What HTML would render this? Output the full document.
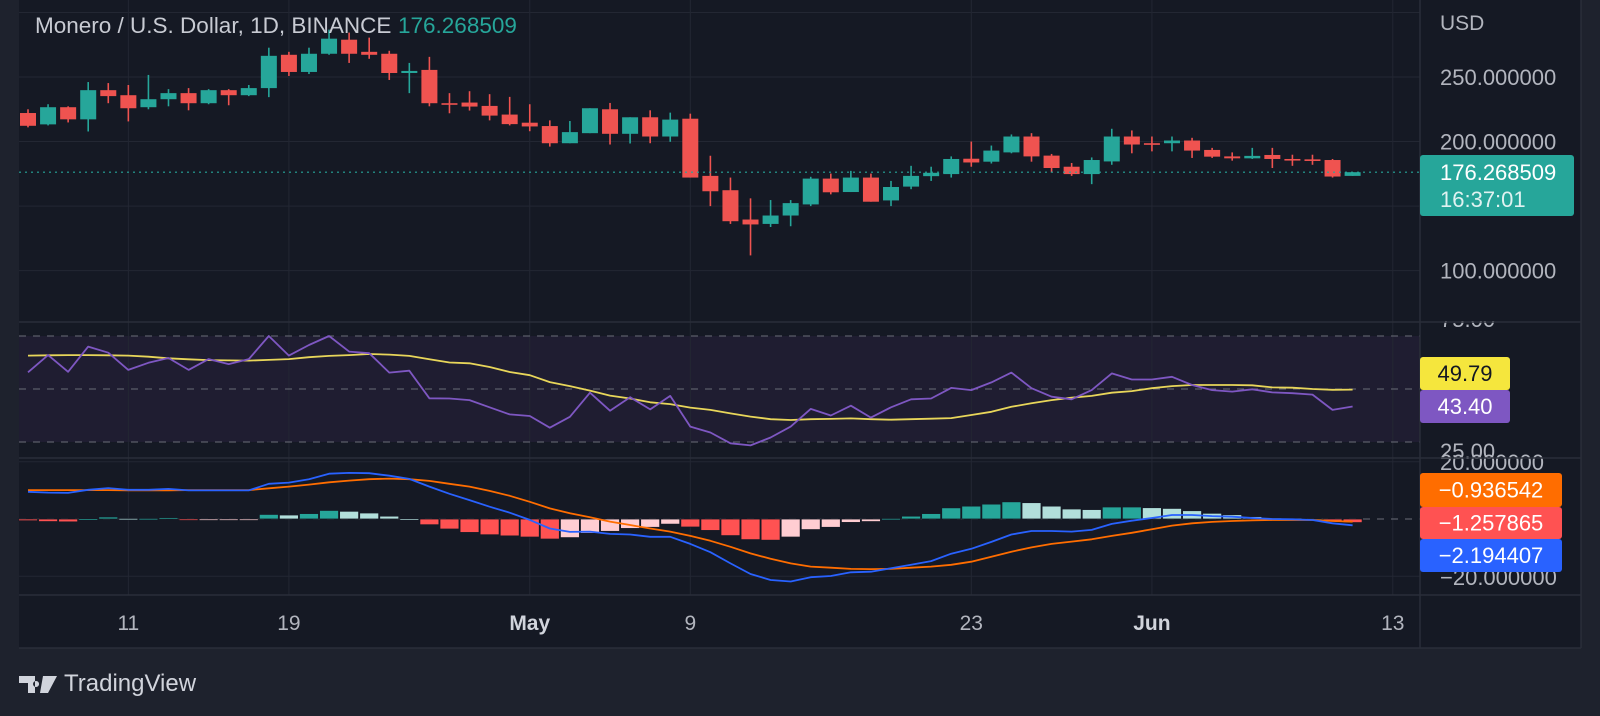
<!DOCTYPE html>
<html><head><meta charset="utf-8"><style>
html,body{margin:0;padding:0;background:#1e222d;}
svg{display:block;font-family:"Liberation Sans",sans-serif;}
</style></head><body>
<svg id="chart" width="1600" height="716" viewBox="0 0 1600 716" xmlns="http://www.w3.org/2000/svg">
<rect x="0" y="0" width="1600" height="716" fill="#1e222d"/>
<rect x="19" y="0" width="1562" height="648" fill="#151924"/>
<rect x="19" y="336" width="1401" height="106" fill="#1f1d31"/>
<g id="grid"></g>
<g id="main"></g>
<g id="rsi"></g>
<g id="macd"></g>
<g id="axes"></g>
<text x="35" y="33" font-size="22.5" fill="#c8cbd3">Monero / U.S. Dollar, 1D, BINANCE</text>
<text x="398" y="33" font-size="22.5" fill="#26a69a">176.268509</text>
<g>
<path d="M19 676 h16 v17 h-7 v-10 h-9z M36 681 a3 3 0 1 0 0.1 0z M43 676 h14 l-9 17 h-8z" fill="#d1d4dc"/>
<text x="64" y="691" font-size="24" fill="#d1d4dc">TradingView</text>
</g>
</svg>
<script>
const openP=[222.1,213.3,226.6,217.2,239.8,235.9,226.6,232.8,237.5,229.7,239.8,235.9,241.4,267.2,253.9,268,278.9,269.5,268,253.1,255.5,229.7,230.2,227.6,220.9,214.6,212,198.7,206.5,225,206,218.8,203.9,217.7,173.4,162.3,139.6,136.2,142.7,151.3,171.3,160.9,172.1,154.4,165.1,173.2,174.8,186.7,184.4,191.6,203.9,189.1,180.5,174.8,184.6,203.9,198.7,198.7,200.8,193.5,188.5,187,189.6,186.5,186.2,185.7,173.4];
const highP=[225,228.9,227.3,246.1,245.3,243.8,251.6,240.6,241.4,240.6,240.6,243.8,272.7,269.5,272.7,286.7,284.4,280.5,270.3,260.9,265.6,237.5,239,236.7,234.6,228.9,216.4,215.9,225.8,229.9,218.8,224.2,222.4,221.6,189,172.1,156,154.7,154.7,172.7,175.2,177.3,175.2,169.5,181.2,180.5,188.5,200,196.9,205.5,206.5,190.4,183.4,187.7,209.9,208.6,203.9,203.9,202.9,195.1,191.6,195.1,195.1,189.8,189.8,186.5,176.3];
const lowP=[211,212.5,214.8,207.8,229.7,215.6,225,227.3,224.2,228.9,228.1,235.2,234.4,250.8,252.3,267.2,260.9,264.1,247.7,237.5,227.3,221.9,224,216.4,212.5,208,196.1,198.7,206.5,197.7,198.5,198.7,199.8,172.1,150,136.2,111.8,133.8,134.4,150,159.1,160.9,153.4,150,163.1,169.5,172.1,180.5,183,190.9,184.4,176,173.4,167,182,190.9,192.4,192.4,187.3,187.3,185.2,186.5,179.5,181.2,182,172.1,173.4];
const closeP=[212.2,226.6,217.2,239.8,235.2,225.8,232.8,237.5,229.7,239.8,235.9,241.4,266.4,253.9,268,279.7,268,267.2,253.1,254.7,229.7,228.9,227.1,220.1,213.5,211.7,198.7,207.3,225.8,206,218.8,203.9,217,172.1,161.5,138.3,135.8,142.7,152.3,171.3,160.7,172.1,153.4,164.8,173.4,175.8,186.5,183.8,193,203.9,188.5,179.5,174.8,185.7,203.9,197.7,198.2,200.8,193,188.3,187,188.9,186.5,186.2,185.7,172.9,176.27];
const rsiVals=[56.3,62.8,56.5,66,63.7,57.2,59.9,61.7,57.2,61.3,59.4,61.3,70,62.6,66.6,70,64.1,63.5,56.2,56.9,46.5,46.4,45.8,43.1,40.4,39.8,35.4,39.5,48.6,41.8,46.9,42.3,47.4,35.8,33.6,29.5,28.7,31.7,35.8,42.5,40,43.7,39.2,43.1,46.1,46.4,50.4,49.6,52.5,56.2,50.3,47.1,46.1,49.6,55.9,53.6,53.6,54.6,51.5,49.6,49,49.9,48.7,48.4,47.9,42.1,43.4];
const rsiMA=[62.6,62.7,62.8,62.8,62.7,62.6,62.2,61.6,61.2,60.9,60.8,60.7,61,61.3,62,62.5,62.8,63.2,63,62.5,61.2,60,59.7,58.3,56.4,55.2,52.6,51.1,49.4,47.5,46.4,45,44.3,43,42.1,40.8,39.6,38.6,38.3,38.6,38.7,38.9,38.6,38.4,38.6,38.8,39,40.2,41.4,43.3,44.6,45.8,46.7,47.4,48.6,49.2,50.3,51.1,51.5,51.5,51.5,51.4,50.6,50.5,50,49.7,49.79];
const macdVals=[9.5,9.2,9.1,10.2,10.8,10.2,10.2,10.5,10,10,10,10,12.3,12.7,13.9,15.8,16.1,16,15.1,14,11.3,8.8,6.6,4.3,2.2,-0.3,-3.3,-4.5,-4.4,-5.2,-5.4,-6.2,-6.2,-8.7,-11.6,-15.5,-19.2,-21.3,-21.8,-20.3,-19.9,-18.6,-18.4,-17.2,-16,-14.7,-12.1,-10.4,-8,-5.4,-4.2,-4.2,-4.4,-3.8,-1.7,-0.6,0.35,1.4,1.4,1.0,0.8,0.35,0,-0.1,-0.35,-1.5,-2.19];
const signalVals=[10.1,10.1,10.1,10.1,10.1,10,10,10,10.1,10.1,10.1,10.1,10.7,11.3,12,12.8,13.4,13.9,14.1,13.9,13.3,12.3,11.3,9.8,8.1,6,3.7,2,0.6,-0.9,-2.1,-3.3,-4.4,-5.9,-7.6,-9.7,-12,-13.9,-15.5,-16.6,-17,-17.4,-17.5,-17.4,-17,-16.6,-16,-14.9,-13.2,-11.4,-9.9,-8.7,-7.9,-7.1,-5.9,-4.8,-3.6,-2.3,-1.5,-1.0,-0.7,-0.5,-0.35,-0.35,-0.35,-0.7,-0.94];
const timeTickIdx=[5,13,25,33,47,56,68];
const timeTickLabels=["11","19","May","9","23","Jun","13"];
const priceTicks=[300,250,200,150,100];
const priceTickLabels=["","250.000000","200.000000","","100.000000"];
const lastPrice=176.268509;

const NS="http://www.w3.org/2000/svg";
function el(tag,attrs,parent,txt){const e=document.createElementNS(NS,tag);for(const k in attrs)e.setAttribute(k,attrs[k]);if(txt!==undefined)e.textContent=txt;parent.appendChild(e);return e;}
function xS(i){return 28+20.07*i;}
function yP(p){return 77+(250-p)*1.291;}
function yR(v){return 389-(v-50)*2.65;}
function yM(v){return 519-v*2.865;}
const grid=document.getElementById('grid'),main=document.getElementById('main'),rsi=document.getElementById('rsi'),macd=document.getElementById('macd'),axes=document.getElementById('axes');

priceTicks.forEach((p,k)=>{const g=el('line',{x1:19,x2:1420,y1:yP(p),y2:yP(p),stroke:'#232733','stroke-width':1},grid);

});
[yM(20),yM(-20)].forEach(y=>{const g=el('line',{x1:19,x2:1420,y1:y,y2:y,stroke:'#232733'},grid);

});
timeTickIdx.forEach(i=>{const g=el('line',{x1:xS(i),x2:xS(i),y1:0,y2:595,stroke:'#232733'},grid);

});
[70,50,30].forEach(v=>{const g=el('line',{x1:19,x2:1420,y1:yR(v),y2:yR(v),stroke:'#6a6d78','stroke-dasharray':'7 7'},grid);

});
{const g=el('line',{x1:19,x2:1420,y1:yM(0),y2:yM(0),stroke:'#6a6d78','stroke-dasharray':'7 7'},grid);

}

for(let i=0;i<openP.length;i++){
 const up=closeP[i]>=openP[i];const c=up?'#26a69a':'#ef5350';const x=xS(i);
 const w=el('line',{x1:x,x2:x,y1:yP(highP[i]),y2:yP(lowP[i]),stroke:c,'stroke-width':1.6},main);
 
 
 const top=yP(Math.max(openP[i],closeP[i])),bot=yP(Math.min(openP[i],closeP[i]));
 const b=el('rect',{x:x-8,y:top,width:16,height:Math.max(1.6,bot-top),fill:c},main);
 
 
}
{const l=el('line',{x1:19,x2:1420,y1:yP(lastPrice),y2:yP(lastPrice),stroke:'#26a69a','stroke-dasharray':'2 4','stroke-width':1.2},main);

}

function poly(vals,fy,color,w,parent,name){const pts=vals.map((v,i)=>xS(i).toFixed(1)+','+fy(v).toFixed(1)).join(' ');
 const p=el('polyline',{points:pts,fill:'none',stroke:color,'stroke-width':w,'stroke-linejoin':'round'},parent);
 
 }
poly(rsiMA,yR,'#e8d65a',1.8,rsi,'rsi-ma-line');
poly(rsiVals,yR,'#7e57c2',1.8,rsi,'rsi-line');

let prev=0;
for(let i=0;i<macdVals.length;i++){
 const h=macdVals[i]-signalVals[i];let c;
 if(h>=0)c=(h>=prev)?'#26a69a':'#b2dfdb';else c=(h<prev)?'#ff5252':'#ffcdd2';
 prev=h;const y0=yM(0),y1=yM(h);
 const r=el('rect',{x:xS(i)-9.5,y:Math.min(y0,y1),width:19,height:Math.max(1.5,Math.abs(y1-y0)),fill:c,stroke:'#151924','stroke-width':0.8},macd);
 
 
}
poly(signalVals,yM,'#ff6d00',1.8,macd,'macd-signal-line');
poly(macdVals,yM,'#2962ff',1.8,macd,'macd-line');

const lbl=[["75.00",327],["25.00",459],["20.000000",470],["−20.000000",585]];
lbl.forEach(a=>{const t=el('text',{x:1440,y:a[1],'font-size':22,fill:'#b2b5be'},axes,a[0]);

});
{const m=el('rect',{x:1421,y:300,width:159,height:21,fill:'#151924'},axes);

}
[[19,322,1581,322],[19,458,1581,458],[19,595,1581,595],[19,648,1581,648],[1420,0,1420,648],[1581,0,1581,648]].forEach(a=>{
 const l=el('line',{x1:a[0],y1:a[1],x2:a[2],y2:a[3],stroke:'#2a2e39','stroke-width':1.5},axes);
 
 });
{const t=el('text',{x:1440,y:30,'font-size':21,fill:'#b2b5be'},axes,'USD');

}
priceTicks.forEach((p,k)=>{if(!priceTickLabels[k])return;const t=el('text',{x:1440,y:yP(p)+8,'font-size':22,fill:'#b2b5be'},axes,priceTickLabels[k]);

});
timeTickIdx.forEach((i,k)=>{const bold=(timeTickLabels[k]==='May'||timeTickLabels[k]==='Jun');
 const t=el('text',{x:xS(i),y:630,'font-size':21,fill:bold?'#d1d4dc':'#b2b5be','text-anchor':'middle','font-weight':bold?'bold':'normal'},axes,timeTickLabels[k]);
 
 });
function tag(y,h,w,bg,fg,txt,name){const g=el('g',{},axes);
 
 
 el('rect',{x:1420,y:y,width:w,height:h,rx:3,fill:bg},g);
 el('text',{x:1420+w/2,y:y+h/2+7.5,'font-size':22,fill:fg,'text-anchor':'middle'},g,txt);}
{const g=el('g',{},axes);


el('rect',{x:1420,y:155,width:154,height:61,rx:3,fill:'#26a69a'},g);
el('text',{x:1440,y:180,'font-size':22,fill:'#ffffff'},g,'176.268509');
el('text',{x:1440,y:207,'font-size':22,fill:'#e0f2f1'},g,'16:37:01');}
tag(357,33,90,'#f5e63d','#131722','49.79','rsi-ma-tag');
tag(390,33,90,'#7e57c2','#ffffff','43.40','rsi-tag');
tag(473,34,142,'#ff6d00','#ffffff','−0.936542','macd-signal-tag');
tag(507,32,142,'#ff5252','#ffffff','−1.257865','macd-histogram-tag');
tag(539,33,142,'#2962ff','#ffffff','−2.194407','macd-tag');
</script>
</body></html>
